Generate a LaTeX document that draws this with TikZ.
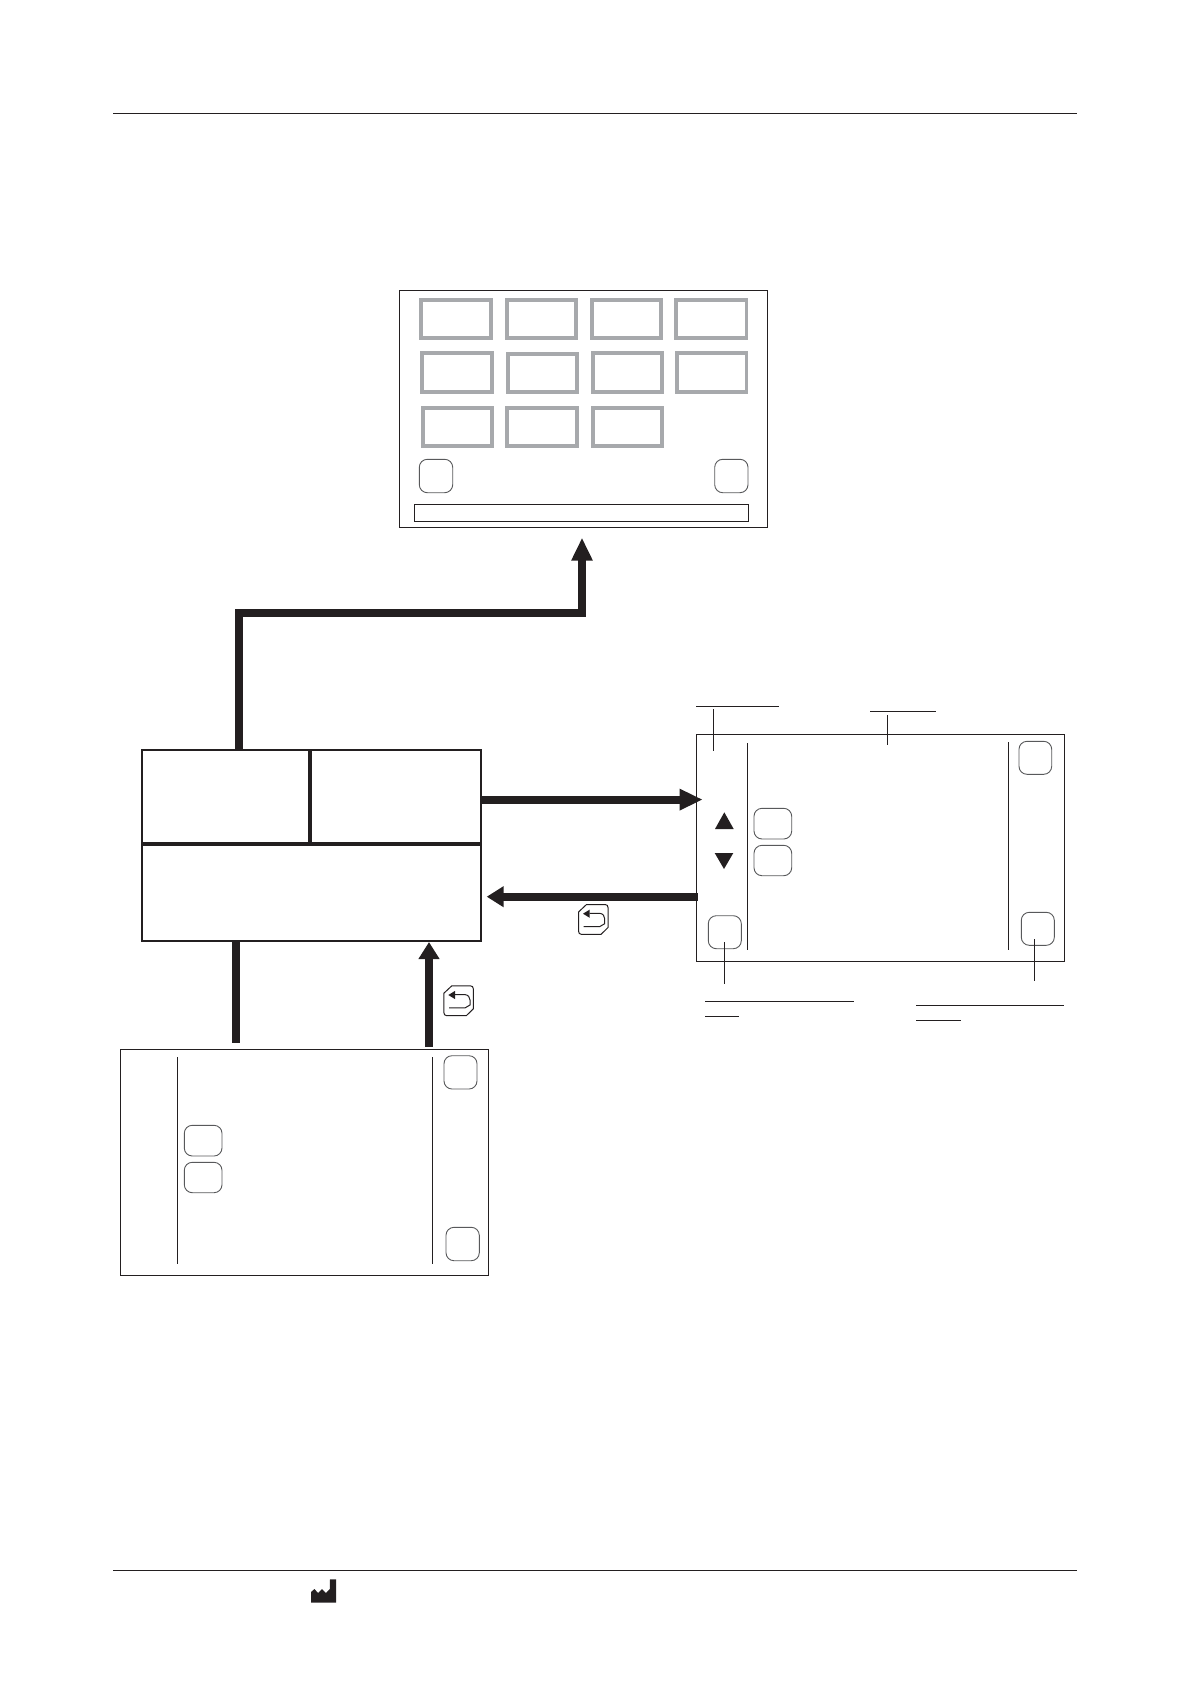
\documentclass[tikz,border=0pt]{standalone}
\usetikzlibrary{arrows.meta,fit,calc}
\definecolor{ink}{HTML}{231F20}
\definecolor{greyframe}{HTML}{A7A9AC}
\definecolor{softline}{HTML}{58595B}
\tikzset{
  base/.style={inner sep=0pt,outer sep=0pt,rectangle},
  screen/.style={base,draw=ink,line width=1.3pt},
  tile/.style={base,draw=greyframe,line width=3.6pt},
  softkey/.style={base,draw=softline,line width=0.9pt,rounded corners=8pt},
  widekey/.style={base,draw=softline,line width=0.9pt,rounded corners=8pt},
  mainbox/.style={base,draw=ink,line width=2pt},
  divider/.style={draw=ink,line width=3.7pt},
  thin/.style={draw=ink,line width=1pt},
  flow/.style={draw=ink,line width=8pt},
  flowhead/.style={flow,-{Triangle[length=17pt,width=20pt]}},
  flowlong/.style={flow,-{Triangle[length=23pt,width=20pt]}},
  iconline/.style={draw=ink,line width=1pt},
  anchorpt/.style={inner sep=0pt,outer sep=0pt,minimum size=0pt}
}
\newcommand{\bx}[6]{\node[#1,fit={(#3,#4)(#5,#6)}] (#2) {};}
\newcommand{\retkey}[3]{%
  \begin{scope}[shift={(#2,#3)}]
    \node[anchorpt] (#1) at (15,15) {};
    \draw[iconline] (0.5,8) -- (8.5,0.5) -- (27,0.5) .. controls (29,0.5) and (30,1.6) .. (30,3.5)
      -- (30,23.5) -- (23,30.4) -- (3.5,30.4) .. controls (1.6,30.4) and (0.5,29) .. (0.5,27) -- cycle;
    \fill[ink] (5,9.7) -- (11.7,5.6) -- (11.7,13.8) -- cycle;
    \draw[iconline] (11.7,9.3) -- (21.7,9.3) .. controls (25,9.7) and (26.7,12) .. (26.7,14.7)
      -- (26.7,19.7) -- (21.7,22.6) -- (5.7,22.6);
  \end{scope}}
\begin{document}
\begin{tikzpicture}[x=1pt,y=-1pt]
\useasboundingbox (0,0) rectangle (1191,1684);

% page rules
\coordinate (hl) at (113.3,113.3); \coordinate (hr) at (1076.7,113.3);
\coordinate (fl) at (113.3,1570.2); \coordinate (fr) at (1076.7,1570.2);
\draw[thin] (hl) -- (hr);
\draw[thin] (fl) -- (fr);

% top menu screen
\bx{screen}{menu}{399.6}{290.3}{767.7}{527.3}
\bx{tile}{t11}{420.7}{299.7}{491}{338}
\bx{tile}{t12}{506.7}{299.7}{576}{338}
\bx{tile}{t13}{591.7}{299.7}{661}{338}
\bx{tile}{t14}{675.7}{299.7}{746.3}{338}
\bx{tile}{t21}{421.7}{352.7}{492}{392}
\bx{tile}{t22}{507.7}{354}{577}{392}
\bx{tile}{t23}{592.7}{352.7}{662}{392}
\bx{tile}{t24}{676.7}{352.7}{746.3}{392}
\bx{tile}{t31}{422.7}{407.7}{492}{446}
\bx{tile}{t32}{506.7}{407.7}{577}{446}
\bx{tile}{t33}{592.7}{407.7}{662}{446}
\bx{softkey}{mk1}{419.3}{459.3}{452.7}{492.7}
\bx{softkey}{mk2}{714.7}{459.3}{748}{492.7}
\bx{screen}{mbar}{414.3}{504.3}{748.7}{521.3}

% main box
\bx{mainbox}{main}{141.7}{750}{481}{941}
\coordinate (divtop) at (310,750);
\coordinate (divbot) at (310,844);
\draw[divider] (divtop) -- (divbot);
\draw[divider] (main.west |- divbot) -- (main.east |- divbot);

% right screen
\bx{screen}{right}{696.3}{734.3}{1064.3}{961.3}
\coordinate (ra1) at (747.3,743.3); \coordinate (ra2) at (747.3,949.7);
\coordinate (rb1) at (1008.3,742); \coordinate (rb2) at (1008.3,949.7);
\draw[thin] (ra1) -- (ra2);
\draw[thin] (rb1) -- (rb2);
\bx{softkey}{rk1}{1019}{741.3}{1051.7}{774.3}
\bx{softkey}{rk2}{1021.3}{912.3}{1054.3}{945.3}
\bx{softkey}{rk3}{708.3}{915.7}{741.3}{948.7}
\bx{widekey}{rk4}{754}{808.3}{791.7}{839}
\bx{widekey}{rk5}{754}{845.3}{791.7}{875.7}
\fill[ink] (724.3,812.3) -- (733.7,829) -- (715,829) -- cycle;
\fill[ink] (724,869) -- (733.3,853) -- (714.7,853) -- cycle;

% callout lines on the right screen
\coordinate (c1a) at (696,706); \coordinate (c1b) at (779,706);
\coordinate (c1c) at (713.3,709); \coordinate (c1d) at (713.3,751);
\draw[thin] (c1a) -- (c1b); \draw[thin] (c1c) -- (c1d);
\coordinate (c2a) at (870,711.3); \coordinate (c2b) at (936,711.3);
\coordinate (c2c) at (887.3,715); \coordinate (c2d) at (887.3,744.7);
\draw[thin] (c2a) -- (c2b); \draw[thin] (c2c) -- (c2d);
\coordinate (c3c) at (724.3,942); \coordinate (c3d) at (724.3,984);
\draw[thin] (c3c) -- (c3d);
\coordinate (c3a) at (705,1001.3); \coordinate (c3b) at (854,1001.3);
\coordinate (c3e) at (705,1016.3); \coordinate (c3f) at (739,1016.3);
\draw[thin] (c3a) -- (c3b); \draw[thin] (c3e) -- (c3f);
\coordinate (c4c) at (1034.3,939); \coordinate (c4d) at (1034.3,981);
\draw[thin] (c4c) -- (c4d);
\coordinate (c4a) at (916,1005); \coordinate (c4b) at (1064,1005);
\coordinate (c4e) at (916,1020.3); \coordinate (c4f) at (961,1020.3);
\draw[thin] (c4a) -- (c4b); \draw[thin] (c4e) -- (c4f);

% lower screen
\bx{screen}{low}{120.3}{1049.3}{488.3}{1275.3}
\coordinate (la1) at (177.7,1057); \coordinate (la2) at (177.7,1264.3);
\coordinate (lb1) at (432.3,1057); \coordinate (lb2) at (432.3,1264.3);
\draw[thin] (la1) -- (la2);
\draw[thin] (lb1) -- (lb2);
\bx{softkey}{lk1}{444}{1055.7}{477}{1089}
\bx{softkey}{lk2}{446}{1227.3}{479.3}{1260.7}
\bx{widekey}{lk3}{184.3}{1125.3}{222}{1156}
\bx{widekey}{lk4}{184.3}{1162.3}{222}{1192.7}

% flow connectors
\coordinate (tipMenu) at (582,537.7);
\coordinate (mainOut) at (238.8,750);
\coordinate (busCorner) at (582,612.8);
\draw[flowlong] (mainOut) |- (busCorner) -- (tipMenu);
\coordinate (tipRight) at (702.7,799.6);
\draw[flowlong] (main.east |- tipRight) -- (tipRight);
\coordinate (tipBack) at (486.7,896.7);
\draw[flowhead] (right.west |- tipBack) ++(1.4,0) -- (tipBack);
\coordinate (lowDown) at (236,1042.7);
\draw[flow] (main.south -| lowDown) -- (lowDown);
\coordinate (tipUp) at (429,942);
\coordinate (lowUp) at (429,1046.7);
\draw[flowhead] (lowUp) -- (tipUp);

% return keys
\retkey{rk}{578}{904}
\retkey{lk}{443.3}{985.3}

% factory mark
\fill[ink] (311,1602.7) -- (311,1592) -- (314.5,1589) -- (318,1593) -- (322,1589) -- (326,1593) -- (329.8,1589)
  -- (330,1579.3) -- (336,1579.3) -- (336,1602.7) -- cycle;
\end{tikzpicture}
\end{document}
